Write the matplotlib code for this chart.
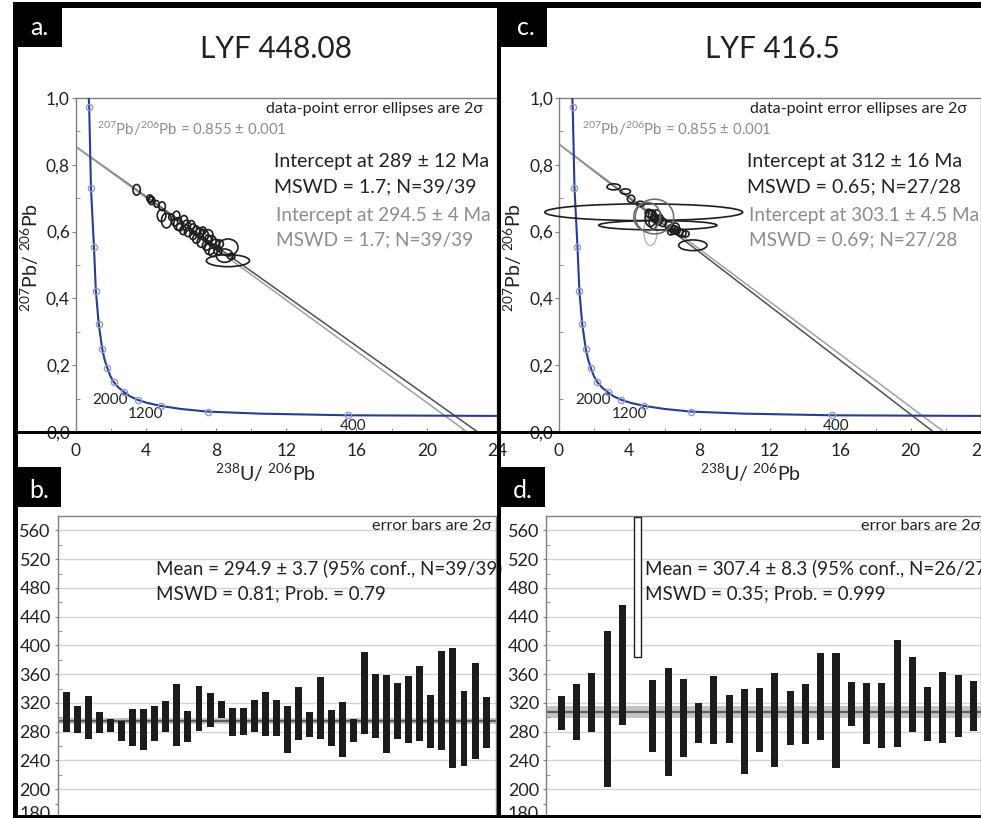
import matplotlib
matplotlib.use("Agg")
import matplotlib.pyplot as plt
from matplotlib.patches import Ellipse, Rectangle
from matplotlib.ticker import MultipleLocator, FuncFormatter
from matplotlib.transforms import ScaledTranslation

plt.rcParams['font.family'] = ['Lato', 'DejaVu Sans']
plt.rcParams['mathtext.fontset'] = 'custom'
plt.rcParams['mathtext.rm'] = 'Lato'
plt.rcParams['mathtext.it'] = 'Lato'
plt.rcParams['mathtext.bf'] = 'Lato'

# ---- concordia ----
conc_x = [0.74, 0.78, 0.88, 1.05, 1.16, 1.32, 1.52, 1.65, 1.81, 1.98, 2.17, 2.45, 2.76,
          3.10, 3.55, 4.10, 4.86, 6.00, 7.53, 10.5, 15.54, 20.0, 24.5]
conc_y = [1.02, 0.973, 0.732, 0.555, 0.422, 0.324, 0.249, 0.218, 0.192, 0.168, 0.150, 0.133, 0.120,
          0.107, 0.096, 0.087, 0.078, 0.069, 0.061, 0.055, 0.050, 0.049, 0.048]
mark_x = [0.78, 0.88, 1.05, 1.16, 1.32, 1.52, 1.81, 2.17, 2.76, 3.55, 4.86, 7.53, 15.54]
mark_y = [0.973, 0.732, 0.555, 0.422, 0.324, 0.249, 0.192, 0.150, 0.120, 0.096, 0.078, 0.061, 0.050]
age_labels = ['2000', '1200', '400']
age_lab_x = [1.94, 4.0, 15.78]
age_lab_y = [0.096, 0.054, 0.018]

# discordia lines: y-intercept and x at y=0
a_disc_y0 = [0.855, 0.855]
a_disc_x0 = [22.9, 22.3]
c_disc_y0 = [0.862, 0.862]
c_disc_x0 = [21.3, 21.9]

# ---- ellipses LYF 448.08 (x, y, width, height) ----
a_ex = [3.48, 4.23, 4.33, 4.29, 4.61, 4.93, 4.90, 5.18, 5.75, 5.84, 6.18, 6.32, 6.60, 6.69, 6.88,
        7.07, 7.32, 7.55, 6.88, 7.17, 7.74, 7.45, 7.97, 8.21, 7.64, 8.68, 7.83, 8.49, 8.87, 8.68,
        6.13, 6.41, 5.65, 5.46, 7.26, 7.55, 8.11, 6.69, 5.94]
a_ey = [0.725, 0.699, 0.693, 0.696, 0.683, 0.676, 0.648, 0.633, 0.648, 0.623, 0.633, 0.618, 0.620,
        0.608, 0.603, 0.596, 0.590, 0.588, 0.578, 0.568, 0.573, 0.558, 0.563, 0.563, 0.548, 0.553,
        0.538, 0.528, 0.526, 0.513, 0.603, 0.598, 0.628, 0.643, 0.603, 0.578, 0.543, 0.588, 0.613]
a_ew = [0.42, 0.34, 0.38, 0.27, 0.30, 0.38, 0.49, 0.57, 0.38, 0.49, 0.42, 0.45, 0.38, 0.42, 0.38,
        0.45, 0.49, 0.57, 0.42, 0.49, 0.53, 0.45, 0.49, 0.42, 0.57, 1.14, 0.49, 0.95, 0.42, 2.46,
        0.38, 0.42, 0.34, 0.30, 0.34, 0.38, 0.45, 0.38, 0.38]
a_eh = [0.032, 0.022, 0.024, 0.018, 0.020, 0.026, 0.036, 0.044, 0.026, 0.038, 0.030, 0.032, 0.026,
        0.030, 0.028, 0.030, 0.032, 0.036, 0.026, 0.030, 0.030, 0.028, 0.028, 0.024, 0.034, 0.050,
        0.026, 0.040, 0.018, 0.036, 0.024, 0.026, 0.022, 0.020, 0.022, 0.024, 0.026, 0.024, 0.022]

# ---- ellipses LYF 416.5 ----
c_ex = [3.11, 3.78, 4.10, 4.63, 4.82, 5.62, 7.61,
        5.10, 5.30, 5.45, 5.55, 5.65, 5.35, 5.75, 5.20, 5.90,
        6.25, 6.40, 6.55, 6.70, 6.85, 6.60, 7.00, 7.20, 6.35]
c_ey = [0.734, 0.720, 0.698, 0.683, 0.658, 0.619, 0.559,
        0.655, 0.650, 0.640, 0.648, 0.633, 0.628, 0.640, 0.640, 0.628,
        0.618, 0.610, 0.605, 0.603, 0.598, 0.612, 0.595, 0.593, 0.600]
c_ew = [0.76, 0.57, 0.42, 0.45, 11.25, 6.72, 1.61,
        0.40, 0.45, 0.38, 0.50, 0.40, 0.45, 0.34, 0.60, 0.40,
        0.45, 0.40, 0.45, 0.38, 0.40, 0.50, 0.45, 0.40, 0.35]
c_eh = [0.018, 0.016, 0.022, 0.016, 0.050, 0.028, 0.032,
        0.024, 0.030, 0.026, 0.034, 0.028, 0.040, 0.022, 0.050, 0.026,
        0.024, 0.022, 0.026, 0.020, 0.022, 0.028, 0.022, 0.018, 0.020]
c_big_ex = [5.43, 5.01]
c_big_ey = [0.645, 0.645]
c_big_ew = [2.18, 1.52]
c_big_eh = [0.104, 0.085]
c_rej_e = (5.20, 0.601, 0.76, 0.085)

# ---- weighted mean bars ----
b_hi = [334.9, 316.4, 329.8, 308.0, 297.4, 295.5, 312.2, 311.3, 315.9, 322.9, 346.5, 309.4, 343.8,
        333.5, 322.9, 312.7, 312.7, 324.3, 335.9, 324.3, 315.9, 342.8, 308.0, 355.8, 310.3, 321.9,
        297.4, 390.6, 360.0, 359.1, 348.4, 356.8, 371.6, 331.2, 392.5, 396.2, 337.3, 376.2, 327.9]
b_lo = [279.3, 277.9, 270.4, 277.9, 279.3, 267.7, 260.2, 254.7, 267.7, 279.3, 260.7, 265.3, 281.6,
        286.2, 298.7, 274.2, 275.6, 280.2, 274.2, 274.2, 250.0, 268.6, 272.3, 269.9, 260.2, 244.5,
        266.3, 276.5, 271.8, 251.0, 269.5, 264.9, 267.7, 257.0, 254.7, 229.1, 232.9, 241.7, 257.9]
b_mean, b_err = 294.9, 3.7

d_hi = [330.3, 346.5, 361.4, 420.3, 455.6, 578.6, 352.1, 368.4, 353.0, 319.6, 356.8, 330.8, 340.0,
        341.4, 361.4, 337.3, 346.5, 389.2, 389.2, 348.9, 347.5, 348.4, 407.8, 384.6, 341.9, 362.8,
        358.6, 351.2]
d_lo = [282.5, 268.6, 279.3, 202.7, 289.5, 384.6, 252.3, 218.5, 245.4, 264.9, 263.0, 264.0, 221.3,
        251.4, 231.5, 261.6, 263.0, 268.6, 229.1, 288.5, 262.6, 257.0, 259.3, 279.3, 267.2, 264.9,
        273.2, 280.7]
d_rejected = [6]
d_mean, d_err = 307.4, 8.3

W, H = 981, 818
fig = plt.figure(figsize=(W / 100, H / 100), dpi=100)
fig.patch.set_facecolor('white')


def fx(px):
    return px / W


def fy(py):
    return 1 - py / H


DARK = '#222222'
GREY = '#8c8c8c'
FRAME = '#808080'


def concordia_panel(rect, ex, ey, ew, eh, y0s, x0s):
    ax = fig.add_axes(rect)
    ax.set_xlim(0, 24)
    ax.set_ylim(0, 1.0)
    for sp in ax.spines.values():
        sp.set_color(FRAME)
        sp.set_linewidth(1)
    ax.plot(conc_x, conc_y, color='#2b3a98', lw=1.5, zorder=3)
    ax.plot(mark_x, mark_y, 'o', ms=4.5, mfc='none', mec='#8c9ad6', mew=1, zorder=4)
    for lab, lx, ly in zip(age_labels, age_lab_x, age_lab_y):
        ax.text(lx, ly, lab, fontsize=11, color=DARK, ha='center', va='center')
    ax.plot([0, x0s[0]], [y0s[0], 0], color='#505050', lw=1.1, zorder=2)
    ax.plot([0, x0s[1]], [y0s[1], 0], color='#a0a0a0', lw=1.1, zorder=2)
    for x, y, w, h in zip(ex, ey, ew, eh):
        ax.add_patch(Ellipse((x, y), w, h, fill=False, ec='#1e1e1e', lw=1.2, zorder=5,
                             clip_on=False))
    ax.yaxis.set_major_locator(MultipleLocator(0.2))
    ax.yaxis.set_minor_locator(MultipleLocator(0.1))
    ax.xaxis.set_major_locator(MultipleLocator(4))
    ax.xaxis.set_minor_locator(MultipleLocator(2))
    ax.yaxis.set_major_formatter(FuncFormatter(lambda v, _: f"{v:.1f}".replace('.', ',')))
    ax.tick_params(axis='y', which='major', direction='out', length=3, pad=1,
                   labelsize=12.5, labelcolor=DARK, color=FRAME)
    ax.tick_params(axis='y', which='minor', direction='in', length=3, color=FRAME)
    ax.tick_params(axis='x', which='both', direction='in', length=3, pad=8,
                   labelsize=12.5, labelcolor=DARK, color=FRAME)
    return ax


ax_a = concordia_panel([fx(75.5), fy(432), fx(497) - fx(75.5), fy(98) - fy(432)],
                       a_ex, a_ey, a_ew, a_eh, a_disc_y0, a_disc_x0)
ax_c = concordia_panel([fx(559), fy(432), fx(981) - fx(559), fy(98) - fy(432)],
                       c_ex, c_ey, c_ew, c_eh, c_disc_y0, c_disc_x0)
for x, y, w, h in zip(c_big_ex, c_big_ey, c_big_ew, c_big_eh):
    ax_c.add_patch(Ellipse((x, y), w, h, fill=False, ec='#6a6a6a', lw=1.1, zorder=5))
ax_c.add_patch(Ellipse(c_rej_e[:2], c_rej_e[2], c_rej_e[3], fill=False, ec='#b5b5b5', lw=1, zorder=4))


def mean_panel(rect, hi, lo, mean, err, xlim, width, rejected=()):
    ax = fig.add_axes(rect)
    ax.set_xlim(*xlim)
    ax.set_ylim(160, 580)
    for sp in ax.spines.values():
        sp.set_color(FRAME)
        sp.set_linewidth(1)
    for g in range(200, 561, 40):
        ax.axhline(g, color='#d4d4d4', lw=1, zorder=0)
    ax.axhspan(mean - err, mean + err, color='#c4c4c4', lw=0, zorder=1)
    ax.axhline(mean, color='#5e5e5e', lw=1.6, zorder=1.5)
    xs = list(range(1, len(hi) + 1))
    for i, (x, h, l) in enumerate(zip(xs, hi, lo), start=1):
        if i in rejected:
            ax.bar(x, h - l, bottom=l, width=width, color='white', ec='#222222', lw=1, zorder=3)
        else:
            ax.bar(x, h - l, bottom=l, width=width, color='#1c1c1c', lw=0, zorder=2)
    ax.set_yticks(list(range(560, 199, -40)) + [180])
    ax.yaxis.set_minor_locator(MultipleLocator(20))
    ax.set_xticks([])
    ax.tick_params(axis='y', which='major', direction='out', length=2, pad=3,
                   labelsize=13, labelcolor=DARK, color=FRAME)
    ax.tick_params(axis='y', which='minor', direction='in', length=3, color=FRAME)
    # the bottom "180" label sits a little lower in the original
    lab = ax.get_yticklabels()[-1]
    lab.set_transform(lab.get_transform() + ScaledTranslation(0, -0.09, fig.dpi_scale_trans))
    return ax


ax_b = mean_panel([fx(57.7), 0, fx(496) - fx(57.7), fy(516)], b_hi, b_lo, b_mean, b_err,
                  (0.2, 39.9), 0.63)
ax_d = mean_panel([fx(546), 0, fx(981) - fx(546), fy(516)], d_hi, d_lo, d_mean, d_err,
                  (0, 28.5), 0.46, rejected=d_rejected)


# ---- texts ----
def t(px, py, s, **kw):
    fig.text(fx(px), fy(py), s, **kw)


t(276, 49, 'LYF 448.08', fontsize=21.5, color=DARK, ha='center', va='center')
t(772, 49, 'LYF 416.5', fontsize=21.5, color=DARK, ha='center', va='center')

for off, lines in [(0, ('Intercept at 289 ± 12 Ma', 'MSWD = 1.7; N=39/39',
                        'Intercept at 294.5 ± 4 Ma', 'MSWD = 1.7; N=39/39')),
                   (472.7, ('Intercept at 312 ± 16 Ma', 'MSWD = 0.65; N=27/28',
                            'Intercept at 303.1 ± 4.5 Ma', 'MSWD = 0.69; N=27/28'))]:
    t(483 + off * 1.023, 109, 'data-point error ellipses are 2σ', fontsize=11.5, color=DARK,
      ha='right', va='center')
    t(97 + off * 1.025, 129, r'$^{207}$Pb/$^{206}$Pb = 0.855 ± 0.001', fontsize=10.8, color=GREY,
      ha='left', va='center')
    t(274 + off, 162, lines[0], fontsize=14, color=DARK, ha='left', va='center')
    t(274 + off, 187, lines[1], fontsize=14, color=DARK, ha='left', va='center')
    t(276 + off, 216, lines[2], fontsize=13.7, color=GREY, ha='left', va='center')
    t(276 + off, 240, lines[3], fontsize=13.7, color=GREY, ha='left', va='center')

t(30, 257, r'$^{207}$Pb/ $^{206}$Pb', fontsize=14, color=DARK, rotation=90, ha='center', va='center')
t(513, 257, r'$^{207}$Pb/ $^{206}$Pb', fontsize=14, color=DARK, rotation=90, ha='center', va='center')
t(265, 473, r'$^{238}$U/ $^{206}$Pb', fontsize=14, color=DARK, ha='center', va='center')
t(750, 473, r'$^{238}$U/ $^{206}$Pb', fontsize=14, color=DARK, ha='center', va='center')

t(491.5, 526, 'error bars are 2σ', fontsize=11.7, color=DARK, ha='right', va='center')
t(980, 526, 'error bars are 2σ', fontsize=11.7, color=DARK, ha='right', va='center')
t(156, 568, 'Mean = 294.9 ± 3.7 (95% conf., N=39/39)', fontsize=13.5, color=DARK, ha='left', va='center')
t(156, 594, 'MSWD = 0.81; Prob. = 0.79', fontsize=13.5, color=DARK, ha='left', va='center')
t(645, 568, 'Mean = 307.4 ± 8.3 (95% conf., N=26/27', fontsize=13.5, color=DARK, ha='left', va='center')
t(645, 594, 'MSWD = 0.35; Prob. = 0.999', fontsize=13.5, color=DARK, ha='left', va='center')


# ---- black frame, dividers and panel letters ----
def black_rect(x0, y0, x1, y1):
    fig.add_artist(Rectangle((fx(x0), fy(y1)), fx(x1) - fx(x0), fy(y0) - fy(y1),
                             transform=fig.transFigure, color='black', lw=0, zorder=10))


black_rect(13, 2, 981, 8)
black_rect(13, 2, 18, 818)
black_rect(497.5, 2, 501, 818)
black_rect(13, 430.5, 981, 433.5)
black_rect(13, 815, 981, 818)
for (x0, y0, x1, y1), lab in [((13, 2, 62, 47), 'a.'), ((501, 2, 547, 47), 'c.'),
                              ((13, 467, 61, 507), 'b.'), ((497.5, 467, 545, 507), 'd.')]:
    black_rect(x0, y0, x1, y1)
    fig.text(fx((x0 + x1) / 2 + 2), fy((y0 + y1) / 2 + 3), lab, fontsize=18, color='white',
             ha='center', va='center', zorder=11)

fig.savefig('out.png', dpi=100)
